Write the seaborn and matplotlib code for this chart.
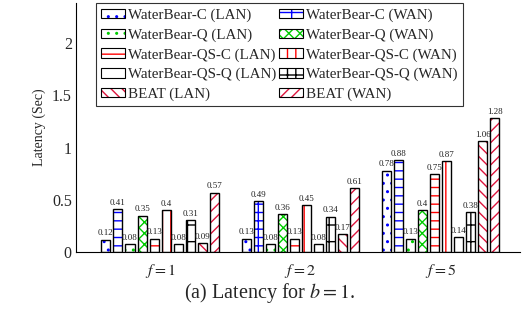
import pandas as pd
import matplotlib
matplotlib.use("Agg")
import matplotlib.pyplot as plt
from matplotlib.patches import Patch, Rectangle
import seaborn as sns

# data
groups = ["$f = 1$", "$f = 2$", "$f = 5$"]
series = [
    "WaterBear-C (LAN)", "WaterBear-C (WAN)",
    "WaterBear-Q (LAN)", "WaterBear-Q (WAN)",
    "WaterBear-QS-C (LAN)", "WaterBear-QS-C (WAN)",
    "WaterBear-QS-Q (LAN)", "WaterBear-QS-Q (WAN)",
    "BEAT (LAN)", "BEAT (WAN)",
]
lat_f1 = [0.12, 0.41, 0.08, 0.35, 0.13, 0.4, 0.08, 0.31, 0.09, 0.57]
lat_f2 = [0.13, 0.49, 0.08, 0.36, 0.13, 0.45, 0.08, 0.34, 0.17, 0.61]
lat_f5 = [0.78, 0.88, 0.13, 0.4, 0.75, 0.87, 0.14, 0.38, 1.06, 1.28]

hatch_colors = ["#0000ff", "#0000ff", "#00cc00", "#00cc00", "#ff0000", "#ff0000",
                "#000000", "#000000", "#dc143c", "#dc143c"]
hatches = ["..", "|--", "..", "xxx", "--", "||", "", "||-",
           "\\\\\\", "///"]

rows = []
for g, vals in zip(groups, [lat_f1, lat_f2, lat_f5]):
    for s, v in zip(series, vals):
        rows.append({"group": g, "series": s, "latency": v})
df = pd.DataFrame(rows)

sns.set_style("white")
plt.rcParams["font.family"] = ["Liberation Serif", "DejaVu Serif"]
plt.rcParams["mathtext.fontset"] = "stix"
plt.rcParams["hatch.linewidth"] = 1.0

fig = plt.figure(figsize=(5.29, 3.22), dpi=100)
ax = fig.add_axes([0.1437, 0.217, 0.84, 0.773])

sns.barplot(data=df, x="group", y="latency", hue="series", hue_order=series,
            order=groups, palette=["white"] * len(series), width=0.86, gap=0.25,
            legend=False, ax=ax, saturation=1)

# hatch in colour, black outline on top
for cont, hc, h in zip(ax.containers, hatch_colors, hatches):
    for bar in cont:
        bar.set_facecolor("white")
        bar.set_edgecolor(hc)
        bar.set_hatch(h)
        bar.set_linewidth(0)
        ax.add_patch(Rectangle(bar.get_xy(), bar.get_width(), bar.get_height(),
                               fill=False, edgecolor="black", lw=1.0, zorder=3))
    ax.bar_label(cont, labels=[f"{v:g}" for v in cont.datavalues],
                 fontsize=6.5, padding=1.5, color="#222222")

ax.set_xlim(-0.6, 2.57)
ax.set_ylim(0, 2.38)
ax.set_yticks([0, 0.5, 1, 1.5, 2])
ax.set_yticklabels(["0", "0.5", "1", "1.5", "2"])
ax.set_xlabel("")
ax.set_ylabel("Latency (Sec)", fontsize=10)
ax.tick_params(axis="y", direction="in", length=4, labelsize=11.5, color="gray", pad=3)
ax.tick_params(axis="x", direction="out", length=4, labelsize=11.5, color="gray", pad=3)
sns.despine(ax=ax)
for sp in ["left", "bottom"]:
    ax.spines[sp].set_color("black")
    ax.spines[sp].set_linewidth(0.8)

# legend: LAN entries left column, WAN right column
handles = [(Patch(facecolor="white", edgecolor=hc, hatch=h, lw=0),
            Patch(fill=False, edgecolor="black", lw=0.8))
           for hc, h in zip(hatch_colors, hatches)]
order = [0, 2, 4, 6, 8, 1, 3, 5, 7, 9]
leg = ax.legend([handles[i] for i in order], [series[i] for i in order],
                ncol=2, loc="upper left", bbox_to_anchor=(0.045, 1.0),
                fontsize=10.8, frameon=True, fancybox=False, edgecolor="black",
                handlelength=1.6, handleheight=0.6, handletextpad=0.2,
                columnspacing=0.15, labelspacing=0.42, borderpad=0.35,
                borderaxespad=0.0)
leg.get_frame().set_linewidth(0.8)

fig.text(0.51, 0.09, "(a) Latency for $b = 1$.", ha="center", va="center", fontsize=14.5)

fig.savefig("out.png", dpi=100)
